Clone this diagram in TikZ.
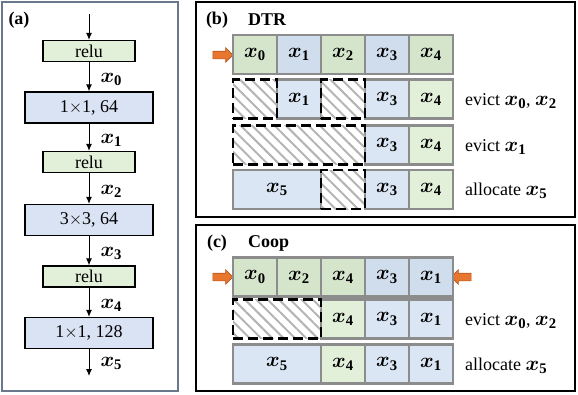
\documentclass[tikz,border=0pt]{standalone}
\usepackage{amsmath, amssymb, bm}
\usepackage{fontspec}
\setmainfont{Liberation Serif}
\usetikzlibrary{arrows.meta, shapes.arrows, patterns.meta}

\definecolor{frameSlate}{HTML}{6A788C}
\definecolor{reluGreen}{HTML}{E2EFD9}
\definecolor{convBlue}{HTML}{DAE3F3}
\definecolor{topGreen}{HTML}{D5E5CB}
\definecolor{topBlue}{HTML}{CFDDED}
\definecolor{cellGreen}{HTML}{E2EFD9}
\definecolor{cellBlue}{HTML}{DAE6F4}
\definecolor{cellGray}{HTML}{8C8C8C}
\definecolor{hatchGray}{HTML}{B4B4B4}
\definecolor{ptrFill}{HTML}{E9762E}
\definecolor{ptrDraw}{HTML}{B8561C}

\newcommand{\xb}[1]{{\fontsize{21}{24}\selectfont$\boldsymbol{x}_{\mathbf{#1}}$}}

\tikzset{
  layer/.style={draw=black, line width=1.2pt, inner sep=0pt},
  relu/.style={layer, fill=reluGreen, minimum width=92, minimum height=21},
  conv/.style={layer, fill=convBlue, minimum width=128, minimum height=31},
  flow/.style={line width=1pt, -{Latex[length=7pt,width=6pt]}},
  xlab/.style={anchor=west, inner sep=0pt, xshift=11pt},
  cell/.style={draw=cellGray, line width=2.2pt, minimum width=44, minimum height=39, inner sep=0pt},
  gtop/.style={cell, fill=topGreen},
  btop/.style={cell, fill=topBlue},
  gcell/.style={cell, fill=cellGreen},
  bcell/.style={cell, fill=cellBlue},
  hatchcell/.style={draw=black, line width=2.5pt, dash pattern=on 10pt off 5pt,
    pattern={Lines[angle=-45, distance=8pt, line width=2pt]}, pattern color=hatchGray,
    minimum height=39, inner sep=0pt},
  ptr/.style={single arrow, fill=ptrFill, draw=ptrDraw, line width=0.6pt,
    minimum height=20, inner sep=3.5pt, single arrow head extend=3.5pt},
  note/.style={anchor=west, inner sep=0pt},
  title/.style={font=\fontsize{18}{22}\selectfont\bfseries, inner sep=0pt}
}

\begin{document}
\begin{tikzpicture}[x=1pt, y=-1pt, font=\fontsize{18}{22}\selectfont]
  \useasboundingbox (0,0) rectangle (578,394);

  % Cadres des trois parties
  \draw[draw=frameSlate, line width=1.5pt] (2,2) rectangle (178,391);
  \draw[line width=1.5pt] (196,2) rectangle (575,217);
  \draw[line width=1.5pt] (196,225) rectangle (575,391);

  % (a) le bloc du réseau
  \node[title] (ta) at (19,20) {(a)};
  \node[relu] (relu1) at (89,51) {relu};
  \node[conv] (conv1) at (89,107.5) {1$\times$1, 64};
  \node[relu] (relu2) at (89,162) {relu};
  \node[conv] (conv2) at (89,220) {3$\times$3, 64};
  \node[relu] (relu3) at (89,276.5) {relu};
  \node[conv] (conv3) at (89,333) {1$\times$1, 128};
  \coordinate (in) at (89,14);
  \coordinate (out) at (89,376);

  \draw[flow] (in) -- (relu1);
  \draw[flow] (relu1) -- node[xlab, pos=0.6] {\xb{0}} (conv1);
  \draw[flow] (conv1) -- node[xlab, pos=0.6] {\xb{1}} (relu2);
  \draw[flow] (relu2) -- node[xlab, pos=0.6] {\xb{2}} (conv2);
  \draw[flow] (conv2) -- node[xlab, pos=0.6] {\xb{3}} (relu3);
  \draw[flow] (relu3) -- node[xlab, pos=0.6] {\xb{4}} (conv3);
  \draw[flow] (conv3) -- node[xlab, pos=0.55] {\xb{5}} (out);

  % (b) DTR
  \node[title] (tb) at (217,20) {(b)};
  \node[title, anchor=west] (dtr) at (248,20) {DTR};
  \node[ptr] (bIn) at (221,55) {};

  \node[gtop] (b00) at (255,54.5) {\xb{0}};
  \node[btop] (b01) at (299,54.5) {\xb{1}};
  \node[gtop] (b02) at (343,54.5) {\xb{2}};
  \node[btop] (b03) at (387,54.5) {\xb{3}};
  \node[gtop] (b04) at (431,54.5) {\xb{4}};

  \node[bcell] (b11) at (299,99) {\xb{1}};
  \node[bcell] (b13) at (387,99) {\xb{3}};
  \node[gcell] (b14) at (431,99) {\xb{4}};
  \node[hatchcell, minimum width=44] (b10) at (255,99) {};
  \node[hatchcell, minimum width=44] (b12) at (343,99) {};
  \node[note] (nb1) at (465,101) {evict \xb{0}, \xb{2}};

  \node[bcell] (b23) at (387,145) {\xb{3}};
  \node[gcell] (b24) at (431,145) {\xb{4}};
  \node[hatchcell, minimum width=132] (b20) at (299,145) {};
  \node[note] (nb2) at (465,147) {evict \xb{1}};

  \node[bcell, minimum width=88] (b30) at (277,189.5) {\xb{5}};
  \node[bcell] (b33) at (387,189.5) {\xb{3}};
  \node[gcell] (b34) at (431,189.5) {\xb{4}};
  \node[hatchcell, minimum width=44] (b32) at (343,189.5) {};
  \node[note] (nb3) at (465,191) {allocate \xb{5}};

  % (c) Coop
  \node[title] (tc) at (217,243) {(c)};
  \node[title, anchor=west] (coop) at (248,243) {Coop};
  \node[ptr] (cIn) at (221,277) {};
  \node[ptr, shape border rotate=180] (cOut) at (463,277) {};

  \node[gtop] (c00) at (255,277) {\xb{0}};
  \node[gtop] (c01) at (299,277) {\xb{2}};
  \node[gtop] (c02) at (343,277) {\xb{4}};
  \node[btop] (c03) at (387,277) {\xb{3}};
  \node[btop] (c04) at (431,277) {\xb{1}};

  \node[gcell] (c12) at (343,319) {\xb{4}};
  \node[bcell] (c13) at (387,319) {\xb{3}};
  \node[bcell] (c14) at (431,319) {\xb{1}};
  \node[hatchcell, minimum width=88] (c10) at (277,319) {};
  \node[note] (nc1) at (465,321) {evict \xb{0}, \xb{2}};

  \node[bcell, minimum width=88] (c20) at (277,364) {\xb{5}};
  \node[gcell] (c22) at (343,364) {\xb{4}};
  \node[bcell] (c23) at (387,364) {\xb{3}};
  \node[bcell] (c24) at (431,364) {\xb{1}};
  \node[note] (nc2) at (465,366) {allocate \xb{5}};
\end{tikzpicture}
\end{document}
